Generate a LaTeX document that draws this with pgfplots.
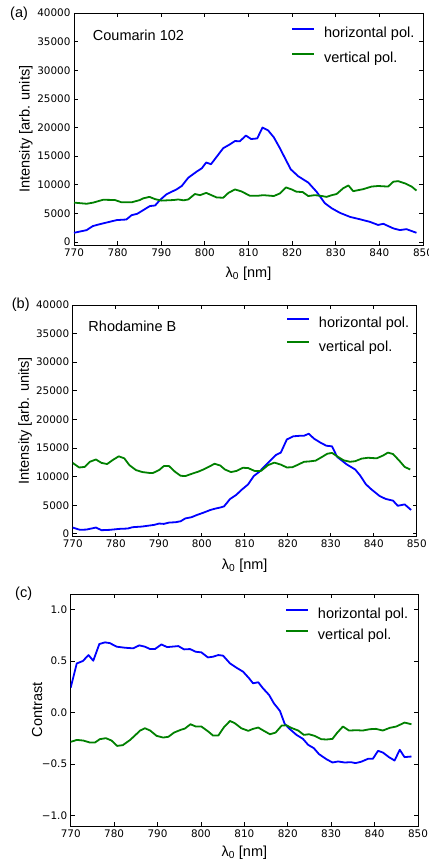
\documentclass[border=0pt]{standalone}
\usepackage{fontspec}
\setmainfont{Liberation Sans}
\newfontfamily\tickfont{DejaVu Sans}
\usepackage{pgfplots}
\pgfplotsset{compat=1.18}
\definecolor{mblue}{rgb}{0,0,1}
\definecolor{mgreen}{rgb}{0,0.5,0}
\newcommand{\lab}{\fontsize{14.5}{17}\selectfont}
\newcommand{\tck}{\tickfont\fontsize{10.4}{12}\selectfont}
\pgfplotsset{
 panel/.style={
  scale only axis, xmin=770, xmax=850, xtick={770,780,...,850},
  tick align=inside,
  axis line style={line width=0.8pt},
  every tick/.style={black, line width=0.8pt},
  major tick length=4pt,
  tick label style={font=\tck},
  /pgf/number format/assume math mode=true,
  /pgf/number format/1000 sep={},
  xlabel={λ\textsubscript{0} [nm]},
  every axis x label/.style={at={(axis description cs:0.5,0)}, anchor=center, yshift=-29pt, font=\lab},
  legend cell align=left,
  legend image code/.code={\draw[##1, line width=1.8pt] (0pt,5pt) -- (22pt,5pt);},
  legend style={draw=none, fill=none, font=\lab, inner sep=0pt, anchor=north west,
     nodes={inner sep=0pt, text height=10.5pt, text depth=3pt},
     column sep=9pt},
  every axis plot/.append style={line width=1.8pt, line join=round},
 },
 ipanel/.style={panel, ymin=-500, ymax=40000, ytick={0,5000,...,40000}, scaled y ticks=false,
  ylabel={Intensity [arb. units]},
  every axis y label/.style={at={(axis description cs:-0.138,0.5)}, rotate=90, anchor=center, font=\lab}},
}
\begin{document}
\begin{tikzpicture}
\useasboundingbox (0pt,0pt) rectangle (428pt,-866pt);
% ---------- (a)
\begin{axis}[ipanel, at={(74pt,-13pt)}, anchor=north west, width=349pt, height=232pt,
  legend style={at={(rel axis cs:0.622,0.9405)}, row sep=11.5pt}]
\addplot[mblue] coordinates {(770,1630)(772.9,2100)(774.3,2800)(776,3150)(779.8,3850)(782,3950)(783.2,4700)(784.5,4950)(785.9,5600)(787.4,6300)(788.6,6400)(789.7,7350)(791.2,8350)(792.4,8800)(793.5,9200)(794.7,9800)(796.2,11250)(798.1,12300)(799.3,12900)(800.3,13900)(801.4,13600)(802.7,14900)(804.2,16400)(805.8,17100)(806.9,17650)(808,17600)(809.4,18600)(810.6,18000)(812,18100)(813.2,20000)(814.5,19500)(815.8,18300)(817.2,16400)(818.4,14600)(819.7,12700)(821.4,11500)(823.7,10400)(825.6,8800)(827.5,6800)(829.1,5900)(831,5100)(833.3,4400)(835.5,4000)(837.8,3550)(839.7,3000)(840.9,3200)(843.2,2400)(844.7,2100)(846.2,2270)(848.5,1630)};
\addlegendentry{horizontal pol.}
\addplot[mgreen] coordinates {(770,6900)(772.9,6700)(774.4,6900)(776.7,7400)(779.4,7350)(780.9,6950)(783.2,6950)(785.1,7350)(785.9,7650)(787.3,7900)(788.6,7500)(790.1,7250)(792.8,7350)(793.9,7450)(795.1,7300)(796.2,7450)(797.7,8400)(798.9,8200)(800.3,8600)(801.5,8200)(802.7,7800)(804.2,7750)(805.4,8600)(806.9,9200)(808.4,8850)(810.3,8100)(812.2,8100)(813.4,8200)(815.8,8050)(817.2,8500)(818.6,9550)(819.9,9200)(821,8800)(822.4,8750)(823.7,8050)(825.2,8200)(826.8,8050)(827.9,7900)(829.1,8200)(830.2,8400)(831.7,9400)(832.9,9900)(834,8900)(836.3,9250)(838.2,9700)(839.7,9800)(842,9700)(843.2,10550)(844.3,10650)(845.9,10250)(847.4,9700)(848.5,9000)};
\addlegendentry{vertical pol.}
\node[anchor=west, font=\lab, inner sep=0pt] at (rel axis cs:0.0536,0.905) {Coumarin 102};
\end{axis}
% ---------- (b)
\begin{axis}[ipanel, at={(72.7pt,-305pt)}, anchor=north west, width=344pt, height=231.7pt,
  legend style={at={(rel axis cs:0.620,0.948)}, row sep=9.8pt}]
\addplot[mblue] coordinates {(770,1100)(771.7,700)(773.2,750)(775.4,1100)(776.7,640)(778.6,700)(780.9,870)(782.8,930)(783.9,1160)(786.2,1280)(787.8,1450)(788.9,1560)(790.1,1800)(791.2,1740)(792.4,1970)(793.9,2030)(795.1,2200)(796.2,2700)(797.6,2900)(798.9,3300)(800.4,3700)(802,4170)(803.1,4400)(804.3,4600)(805.2,4800)(806.6,6100)(808.1,6850)(809.2,7650)(810.8,8650)(812.1,10100)(813.4,10850)(815,12100)(817.3,13800)(818.4,14200)(819.8,16500)(821.3,17050)(823,17150)(823.8,17150)(824.9,17500)(826.1,16650)(827.6,15950)(829,15400)(830.3,15300)(831.5,13450)(833.8,12100)(835.7,11250)(836.8,10250)(838.2,8650)(839.5,7750)(841.4,6600)(842.8,6100)(844.5,5800)(845.6,4900)(847.2,5150)(848.7,4170)};
\addlegendentry{horizontal pol.}
\addplot[mgreen] coordinates {(770,12400)(771.5,11600)(772.8,11700)(774,12600)(775.4,13000)(776.7,12400)(778,12200)(779.3,12900)(780.7,13550)(782,13200)(783.2,12000)(784.7,11150)(786.2,10800)(787.8,10650)(788.7,10650)(790.1,11150)(791.2,11850)(792.4,11850)(793.8,10850)(795.1,10150)(796.2,10100)(797.7,10500)(799.3,10900)(800.4,11250)(801.6,11700)(803,12250)(804.3,11950)(805.4,11250)(806.8,10800)(808.1,11000)(809.6,11550)(810.8,11500)(812.3,11000)(813.8,11000)(815.4,12000)(816.9,12450)(818.4,12100)(819.8,11600)(821.1,11650)(822.3,12050)(823.8,12600)(824.9,12650)(826.5,12800)(828,13450)(829.2,14000)(830.3,14150)(831.5,13550)(833,12850)(834.5,12600)(835.7,12700)(837.2,13150)(838.7,13300)(840.7,13200)(842.2,13700)(843.3,14200)(844.5,13950)(846,12750)(847.2,11700)(848.5,11250)};
\addlegendentry{vertical pol.}
\node[anchor=west, font=\lab, inner sep=0pt] at (rel axis cs:0.0453,0.909) {Rhodamine B};
\end{axis}
% ---------- (c)
\begin{axis}[panel, at={(70.7pt,-594pt)}, anchor=north west, width=347.3pt, height=232pt,
  ymin=-1.1, ymax=1.15, ytick={-1,-0.5,0,0.5,1}, yticklabels={−1.0,−0.5,0.0,0.5,1.0},
  ylabel={Contrast},
  every axis y label/.style={at={(axis description cs:-0.097,0.5)}, rotate=90, anchor=center, font=\lab},
  every axis x label/.style={at={(axis description cs:0.5,0)}, anchor=center, yshift=-27pt, font=\lab},
  legend style={at={(rel axis cs:0.617,0.939)}, row sep=7.2pt}]
\addplot[mblue] coordinates {(770,0.242)(771.4,0.477)(772.8,0.5)(774.1,0.558)(775.2,0.503)(776.6,0.665)(777.9,0.681)(779,0.674)(780.6,0.639)(782.5,0.629)(784.4,0.623)(785.8,0.652)(787.1,0.639)(788.3,0.616)(789.4,0.616)(790.9,0.661)(792.2,0.635)(794.8,0.645)(796.1,0.613)(797.5,0.616)(798.8,0.590)(800.1,0.584)(801.6,0.535)(802.8,0.542)(804,0.558)(805.1,0.552)(806.7,0.477)(808.2,0.435)(809.7,0.397)(811.1,0.332)(812,0.284)(813.2,0.294)(814.3,0.235)(815.7,0.171)(816.8,0.090)(818.2,0.016)(819.3,-0.110)(820.5,-0.161)(822,-0.216)(823.5,-0.255)(824.7,-0.313)(826,-0.345)(827.2,-0.403)(828.9,-0.452)(830.3,-0.484)(831.6,-0.474)(833.1,-0.484)(834.6,-0.481)(835.6,-0.490)(836.9,-0.477)(838.5,-0.448)(839.6,-0.448)(840.8,-0.371)(841.9,-0.387)(843.3,-0.432)(844.6,-0.465)(845.8,-0.361)(846.9,-0.432)(848.5,-0.426)};
\addlegendentry{horizontal pol.}
\addplot[mgreen] coordinates {(770,-0.284)(771.4,-0.265)(772.9,-0.271)(774.4,-0.290)(775.6,-0.290)(776.7,-0.258)(778.1,-0.248)(779.4,-0.271)(780.7,-0.323)(782,-0.316)(783.7,-0.265)(785.2,-0.206)(786,-0.174)(787.1,-0.152)(788.3,-0.174)(789.8,-0.226)(791.3,-0.242)(792.5,-0.235)(793.8,-0.194)(795.3,-0.168)(796.3,-0.155)(797.6,-0.113)(798.8,-0.135)(800.1,-0.135)(801.7,-0.184)(802.8,-0.223)(804,-0.223)(805.3,-0.142)(806.7,-0.081)(807.8,-0.103)(809.3,-0.152)(810.9,-0.177)(812,-0.158)(813.2,-0.145)(814.5,-0.177)(815.9,-0.210)(817.2,-0.194)(818.6,-0.126)(819.7,-0.123)(820.8,-0.148)(822.4,-0.174)(823.7,-0.216)(824.9,-0.210)(826.2,-0.226)(827.7,-0.258)(828.9,-0.261)(830.3,-0.255)(831.3,-0.200)(832.7,-0.135)(834.1,-0.174)(835.8,-0.171)(837.3,-0.174)(838.9,-0.161)(840.3,-0.158)(841.9,-0.174)(843.5,-0.148)(845,-0.135)(846.9,-0.097)(848.5,-0.113)};
\addlegendentry{vertical pol.}
\end{axis}
\node[anchor=west, font=\lab, inner sep=0pt] at (10pt,-13.5pt) {(a)};
\node[anchor=west, font=\lab, inner sep=0pt] at (11.7pt,-305pt) {(b)};
\node[anchor=west, font=\lab, inner sep=0pt] at (15pt,-593.3pt) {(c)};
\end{tikzpicture}
\end{document}
